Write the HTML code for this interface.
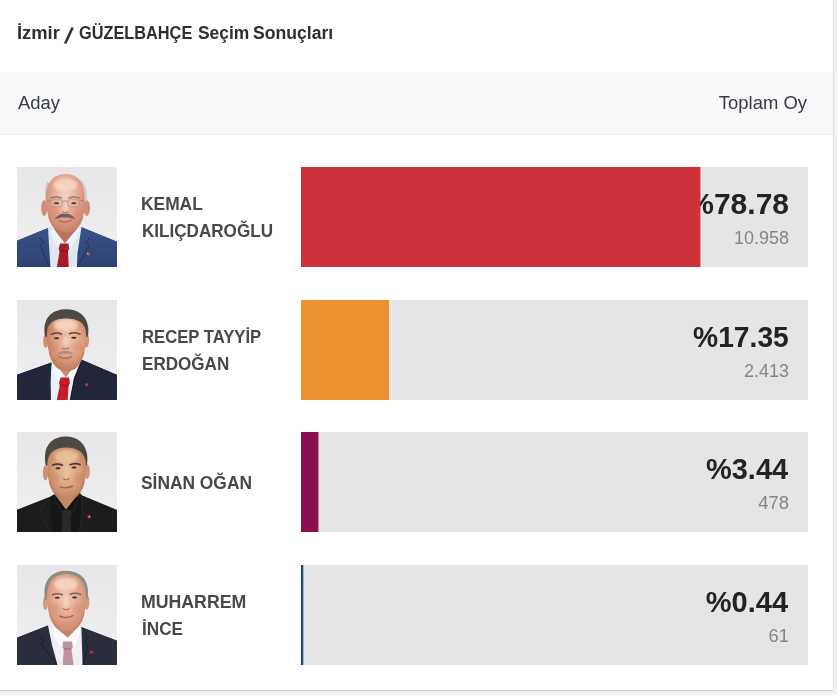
<!DOCTYPE html>
<html lang="tr">
<head>
<meta charset="utf-8">
<title>İzmir / GÜZELBAHÇE Seçim Sonuçları</title>
<style>
html,body{margin:0;padding:0;}
body{width:837px;height:695px;overflow:hidden;background:#f2f1f3;font-family:"Liberation Sans",sans-serif;color:#333;position:relative;}
.card{position:absolute;left:0;top:0;width:833px;height:690px;background:#fff;box-shadow:0 1px 1px rgba(0,0,0,.16), 1px 0 0 #e9e8ea;}
.t{position:absolute;white-space:nowrap;display:inline-block;transform-origin:0 0;line-height:1;}
.r{transform-origin:100% 0;}
.title{font-size:17.5px;font-weight:bold;color:#2e2e33;}
.thead{position:absolute;left:0;top:72px;width:833px;height:62px;background:#f9f8fa;border-bottom:1px solid #f1f0f3;}
.th{font-size:18px;color:#353b44;}
.row{position:absolute;left:0;width:833px;height:100px;}
.photo{position:absolute;left:17px;top:0;width:100px;height:100px;overflow:hidden;background:#e8e8e9;}
.photo svg{display:block;}
.name{font-size:18px;font-weight:bold;color:#47474c;}
.bar{position:absolute;left:301px;top:0;width:507px;height:100px;background:#e5e5e5;overflow:hidden;}
.fill{position:absolute;left:0;top:0;height:100px;z-index:2;}
.pct{font-size:30px;font-weight:bold;color:#232326;z-index:1;}
.cnt{font-size:18px;color:#86868a;z-index:1;}
</style>
</head>
<body>
<div class="card">
<h1 style="margin:0;font-size:inherit;font-weight:inherit"><span class="t title" style="left:16.62px;top:24.60px;transform:scaleX(1.0494);">İzmir</span> <span class="t title" style="left:67.60px;top:25.60px;transform:skewX(-14deg) scale(1.35,1.22);">/</span> <span class="t title" style="left:79.05px;top:24.60px;transform:scaleX(0.9322);">GÜZELBAHÇE</span> <span class="t title" style="left:197.70px;top:24.60px;transform:scaleX(0.9957);">Seçim</span> <span class="t title" style="left:253.28px;top:24.60px;transform:scaleX(1.0061);">Sonuçları</span></h1>
<div class="thead"></div>
<span class="t th" style="left:18.02px;top:94.20px;transform:scaleX(1.0238);">Aday</span> <span class="t th r" style="right:26.42px;top:94.20px;transform:scaleX(1.0249);">Toplam Oy</span>
<div class="row" style="top:167px">
<div class="photo"><svg width="100" height="100" viewBox="0 0 100 100"><defs><filter id="b1" x="-5%" y="-5%" width="110%" height="110%"><feGaussianBlur stdDeviation="0.55"/></filter><filter id="s1" x="-20%" y="-20%" width="140%" height="140%"><feGaussianBlur stdDeviation="1.6"/></filter><linearGradient id="bgg" x1="0" y1="0" x2="0" y2="1"><stop offset="0" stop-color="#e7e7e9"/><stop offset="0.75" stop-color="#eeeeef"/></linearGradient><clipPath id="fc1"><path d="M49,7 C38,7 30,14 29.2,26 C28.8,34 29.5,42 31,48 C32.5,54 35,60 41,63.6 C45,65.6 52,65.6 56,63.8 C62,60.5 65,54 66.5,48 C67.8,42 68,34 67.4,26 C66.5,14 59,7 49,7 Z"/></clipPath><radialGradient id="f1" cx="0.5" cy="0.36" r="0.62"><stop offset="0" stop-color="#f3d3c2"/><stop offset="0.5" stop-color="#e6ab95"/><stop offset="1" stop-color="#cc836c"/></radialGradient>
<linearGradient id="j1" x1="0" y1="0" x2="0" y2="1"><stop offset="0" stop-color="#3a5388"/><stop offset="1" stop-color="#2c4070"/></linearGradient></defs><rect width="100" height="100" fill="url(#bgg)"/>
<g filter="url(#b1)">
<path d="M-2,74.5 L31,61 L47,70 L64,60 L102,75.5 L102,102 L-2,102 Z" fill="url(#j1)"/>
<path d="M31,61 L38.5,58 L60,57.5 L64.5,60 L60.5,86 L59.8,102 L33.5,102 L32.4,84 Z" fill="#dfe6f1"/>
<path d="M38,56 L60,56 L60.5,62 L48,76.5 L37,63 Z" fill="#b9745f"/>
<path d="M37,62 L47.6,76.6 L41,81 L32,64 Z" fill="#edf1f8"/>
<path d="M60.6,61 L47.8,76.6 L54.5,81 L64,62 Z" fill="#edf1f8"/>
<path d="M43,76.6 L51.5,76.6 L52.2,82 L51,84 L51.8,102 L39.6,102 L42.6,84 L41.6,82 Z" fill="#a61f2b"/>
<path d="M42.6,84 L51,84" stroke="#6e1219" stroke-width="0.8" fill="none"/>
<path d="M31,61 L22,71 L27,75 L23,78 L33,102 L-2,102 L-2,74.5 Z" fill="url(#j1)"/>
<path d="M64.2,60 L73,71 L68,75.5 L72,78 L60,102 L102,102 L102,75.5 Z" fill="url(#j1)"/>
<path d="M22,71 L27,75 L23,78 L32.5,100" stroke="#1f3058" stroke-width="0.9" fill="none"/>
<path d="M73,71 L68,75.5 L72,78 L60.6,100" stroke="#1f3058" stroke-width="0.9" fill="none"/>
<ellipse cx="27.2" cy="41" rx="3" ry="8" fill="#d28e78"/>
<ellipse cx="69.8" cy="41" rx="3.2" ry="8" fill="#d28e78"/>
<path d="M30.5,14 C27.5,19 27.6,28 28.6,34 L32,34 L32.5,17 Z" fill="#cfcbca"/>
<path d="M62,11.5 C68.5,15 71,25 70.2,34 L66.5,34 L64,17 Z" fill="#d2cfcf"/>
<path d="M49,7 C38,7 30,14 29.2,26 C28.8,34 29.5,42 31,48 C32.5,54 35,60 41,63.6 C45,65.6 52,65.6 56,63.8 C62,60.5 65,54 66.5,48 C67.8,42 68,34 67.4,26 C66.5,14 59,7 49,7 Z" fill="url(#f1)"/><g clip-path="url(#fc1)"><g filter="url(#s1)"><ellipse cx="48.5" cy="18" rx="12" ry="6.5" fill="#f7d8c4" opacity="0.85"/><ellipse cx="36.0" cy="45" rx="5.5" ry="5" fill="#d8806e" opacity="0.36"/><ellipse cx="61.0" cy="45" rx="5.5" ry="5" fill="#d8806e" opacity="0.36"/><ellipse cx="48.5" cy="40" rx="2.4" ry="5.5" fill="#f7d8c4" opacity="0.7"/></g></g>
<path d="M33.5,31.4 C37,29.6 41,29.8 44.6,31.2" stroke="#8f7a70" stroke-width="1.5" fill="none"/>
<path d="M51.5,31.2 C55,29.6 59.5,29.6 63.2,31.4" stroke="#8f7a70" stroke-width="1.5" fill="none"/>
<path d="M29.5,33.8 L34,34 M45,34.6 C46.5,33.6 49.5,33.6 51,34.6 M62.5,34 L67.5,33.6" stroke="#8d7466" stroke-width="0.6" fill="none"/>
<rect x="33.6" y="32.6" width="11.6" height="7.4" rx="2.6" fill="none" stroke="#a88b7c" stroke-width="0.6"/>
<rect x="51" y="32.6" width="11.6" height="7.4" rx="2.6" fill="none" stroke="#a88b7c" stroke-width="0.6"/>
<ellipse cx="39.6" cy="36.2" rx="2.6" ry="1" fill="#4a3a34"/>
<ellipse cx="56.8" cy="36.2" rx="2.6" ry="1" fill="#4a3a34"/>
<path d="M45.5,44.5 C46.5,46.2 50,46.2 51.2,44.5" stroke="#b87458" stroke-width="1.1" fill="none"/>
<path d="M37.6,52.4 C40,48 45,46.2 48,47 C51,46.2 56,48 58.4,52.4 C54,50.6 51,50.4 48,50.6 C45,50.4 42,50.6 37.6,52.4 Z" fill="#6a6062"/>
<path d="M41.5,53.2 C45,55.6 51,55.6 54.6,53.2" stroke="#b86a62" stroke-width="1.5" fill="none"/>
<path d="M32,50 C34,58 38,62 42,64" stroke="#c07e62" stroke-width="1.6" fill="none" opacity="0.6"/>
<path d="M65.5,50 C63.5,58 60,62 55.5,64" stroke="#c07e62" stroke-width="1.6" fill="none" opacity="0.6"/>
<circle cx="71.5" cy="87.3" r="1.5" fill="#d23b40"/><circle cx="70.8" cy="86.4" r="0.6" fill="#f3e6e6"/>
</g></svg></div>
<span class="t name" style="left:141.43px;top:28.00px;transform:scaleX(0.9656);">KEMAL</span> <span class="t name" style="left:141.55px;top:55.00px;transform:scaleX(0.9491);">KILIÇDAROĞLU</span>
<div class="bar"><div class="fill" style="width:400px;background:linear-gradient(to right,#cd313a 0,#cd313a 399px,#cd313a6d 399px)"></div><span class="t r pct" style="right:19.00px;top:21.90px;transform:scaleX(1.0000);">%78.78</span> <span class="t r cnt" style="right:18.94px;top:62.20px;transform:scaleX(0.9996);">10.958</span></div>
</div>
<div class="row" style="top:300px">
<div class="photo"><svg width="100" height="100" viewBox="0 0 100 100"><defs><filter id="b2" x="-5%" y="-5%" width="110%" height="110%"><feGaussianBlur stdDeviation="0.55"/></filter><filter id="s2" x="-20%" y="-20%" width="140%" height="140%"><feGaussianBlur stdDeviation="1.6"/></filter><clipPath id="fc2"><path d="M49,18.4 C39,18.4 31.5,21.5 30.2,30 C29.4,37 29.8,44 31.6,50.6 C33.4,58 36.4,65 42,69 C46,71.4 53,71.4 57.2,69.2 C63,65 66,58 67.6,50.6 C69.2,44 69.6,37 68.6,30 C67,21.5 59,18.4 49,18.4 Z"/></clipPath><radialGradient id="f2" cx="0.56" cy="0.40" r="0.66"><stop offset="0" stop-color="#efc3a6"/><stop offset="0.5" stop-color="#dfa284"/><stop offset="1" stop-color="#bd7350"/></radialGradient>
<linearGradient id="g2" x1="0" y1="0" x2="0" y2="1"><stop offset="0" stop-color="#dfdee3"/><stop offset="1" stop-color="#ecebee"/></linearGradient></defs><rect width="100" height="100" fill="url(#bgg)"/>
<g filter="url(#b2)">
<path d="M-2,75.5 L34.5,62.6 L48,72 L64.7,59.7 L102,75.8 L102,102 L-2,102 Z" fill="#20263a"/>
<path d="M34.5,62 L40,58 L60,57 L64.7,59.7 L58,80 L54.4,102 L33.8,102 L33.4,82 Z" fill="#e6f0f7"/>
<path d="M39,57 L61,56 L61,62 L49,77.5 L38.5,64 Z" fill="#c98c6c"/>
<path d="M38,63 L48.5,77.6 L41.5,83 L34,66 Z" fill="#f3f8fb"/>
<path d="M61.2,61 L48.8,77.6 L55,82 L64,62 Z" fill="#f3f8fb"/>
<path d="M43.4,77.6 L52,77.6 L53,83 L51.6,85.4 L50.6,102 L39.4,102 L42.8,85.4 L42,83 Z" fill="#c51f29"/>
<path d="M42.8,85.4 L51.6,85.4" stroke="#8a1219" stroke-width="0.8" fill="none"/>
<path d="M34.5,62.4 L33.4,82 L33.8,102 L-2,102 L-2,75.5 Z" fill="#20263a"/>
<path d="M64.7,59.7 L57.2,78 L52.8,102 L102,102 L102,75.8 Z" fill="#20263a"/>
<path d="M64.5,61 L57.5,78 L53.1,101" stroke="#10131f" stroke-width="0.9" fill="none"/>
<ellipse cx="28.6" cy="41" rx="2.4" ry="7" fill="#cf9172"/>
<ellipse cx="69.4" cy="40" rx="2.6" ry="7.5" fill="#cf9172"/>
<path d="M49,9.2 C36,9 28,17 27.4,28 C27.2,32 27.6,35 28.4,37 L31.4,36 C31,30 32,25 36,22 C42,19.4 56,19 62,21.6 C66.5,24.4 67.4,30 67.2,36 L70.6,37 C71.6,33 71.6,29 71,26 C69,15 61,9.2 49,9.2 Z" fill="#4d4a47"/>
<path d="M49,18.4 C39,18.4 31.5,21.5 30.2,30 C29.4,37 29.8,44 31.6,50.6 C33.4,58 36.4,65 42,69 C46,71.4 53,71.4 57.2,69.2 C63,65 66,58 67.6,50.6 C69.2,44 69.6,37 68.6,30 C67,21.5 59,18.4 49,18.4 Z" fill="url(#f2)"/><g clip-path="url(#fc2)"><g filter="url(#s2)"><ellipse cx="48.5" cy="25" rx="12" ry="6.5" fill="#f7d8c4" opacity="0.85"/><ellipse cx="36.0" cy="47" rx="5.5" ry="5" fill="#d8806e" opacity="0.36"/><ellipse cx="61.0" cy="47" rx="5.5" ry="5" fill="#d8806e" opacity="0.36"/><ellipse cx="48.5" cy="42" rx="2.4" ry="5.5" fill="#f7d8c4" opacity="0.7"/></g></g>
<path d="M33.6,34.6 C37,32.6 41.4,32.6 45,34.2" stroke="#5b4a42" stroke-width="1.6" fill="none"/>
<path d="M52,34 C55.6,32.4 60,32.4 63.6,34.4" stroke="#5b4a42" stroke-width="1.6" fill="none"/>
<ellipse cx="39.6" cy="38.2" rx="2.6" ry="1.05" fill="#3d2f2a"/>
<ellipse cx="56.8" cy="37.8" rx="2.6" ry="1.05" fill="#3d2f2a"/>
<path d="M45.2,47.6 C46.4,49.4 50.4,49.4 51.6,47.6" stroke="#b57256" stroke-width="1.1" fill="none"/>
<path d="M39.6,55.2 C42,51.6 46,50.6 48.4,51.2 C51,50.6 55,51.6 57,55 C54,53.6 51,53.4 48.4,53.6 C45.6,53.4 43,53.8 39.6,55.2 Z" fill="#a48f86"/>
<path d="M42,56.6 C45.4,58.8 51.4,58.8 55,56.4" stroke="#b9675e" stroke-width="1.5" fill="none"/>
<path d="M32.4,52 C34.4,61 38.4,66.4 42.6,69.2" stroke="#b87658" stroke-width="1.6" fill="none" opacity="0.6"/>
<path d="M66.8,52 C64.8,61 61,66.4 56.6,69.2" stroke="#b87658" stroke-width="1.6" fill="none" opacity="0.6"/>
<circle cx="69.5" cy="84.5" r="1.5" fill="#d0323a"/>
</g></svg></div>
<span class="t name" style="left:141.75px;top:28.00px;transform:scaleX(0.9264);">RECEP TAYYİP</span> <span class="t name" style="left:141.56px;top:55.00px;transform:scaleX(0.9485);">ERDOĞAN</span>
<div class="bar"><div class="fill" style="width:88px;background:linear-gradient(to right,#ec912f 0,#ec912f 87px,#ec912ff7 87px)"></div><span class="t r pct" style="right:19.12px;top:21.90px;transform:scaleX(0.9400);">%17.35</span> <span class="t r cnt" style="right:18.71px;top:62.20px;transform:scaleX(0.9988);">2.413</span></div>
</div>
<div class="row" style="top:432px">
<div class="photo"><svg width="100" height="100" viewBox="0 0 100 100"><defs><filter id="b3" x="-5%" y="-5%" width="110%" height="110%"><feGaussianBlur stdDeviation="0.55"/></filter><filter id="s3" x="-20%" y="-20%" width="140%" height="140%"><feGaussianBlur stdDeviation="1.6"/></filter><clipPath id="fc3"><path d="M49,15.4 C39,15.4 31.8,19.4 30.6,29 C29.8,36 30.2,43 32,49.6 C33.8,56 37,62.6 42.6,66 C46.6,68.4 53,68.4 57,66.2 C62.6,62.8 66,56 67.6,49.6 C69.2,43 69.6,36 68.6,29 C67,19.4 59,15.4 49,15.4 Z"/></clipPath><radialGradient id="f3" cx="0.5" cy="0.45" r="0.62"><stop offset="0" stop-color="#ecc29e"/><stop offset="0.5" stop-color="#d9a27b"/><stop offset="1" stop-color="#b57a54"/></radialGradient></defs><rect width="100" height="100" fill="url(#bgg)"/>
<g filter="url(#b3)">
<path d="M-2,78.6 L33,64.7 L48,72 L64.7,63.3 L102,78.8 L102,102 L-2,102 Z" fill="#1a1a1c"/>
<path d="M38.5,58 L62,57 L62.4,66 L49,78 L37.6,67 Z" fill="#c08a68"/>
<path d="M33,64.7 L37.6,62 L49,77.6 L62.6,60.6 L64.7,63.3 L62,102 L36,102 Z" fill="#161518"/>
<path d="M45.6,78 L54,78 L54.6,84 L53.4,86 L54,102 L44.4,102 L45.8,86 L44.8,84 Z" fill="#2a2c2e"/>
<path d="M37,66 L45,80 M62.6,64 L56.6,80" stroke="#2b2b2e" stroke-width="0.8" fill="none"/>
<path d="M33,65 L23,78 L34,102 M64.7,63.6 L66,80 L62,102" stroke="#2c2c30" stroke-width="0.8" fill="none"/>
<ellipse cx="28.4" cy="41" rx="2.6" ry="7.4" fill="#cc9474"/>
<ellipse cx="70.2" cy="39.6" rx="2.6" ry="7.4" fill="#cc9474"/>
<path d="M49,4.4 C36,4.4 28.4,12 28,24 C27.8,28 28.2,31.6 29,34 L31.8,33 C31.6,27 32.6,22 36.6,19.4 C43,16.6 56,16.6 62.4,19 C66.4,22 67.2,27 67.2,33 L69.8,33.6 C70.6,30 70.6,26 70,22 C68,10.6 60,4.4 49,4.4 Z" fill="#4b4843"/>
<path d="M49,15.4 C39,15.4 31.8,19.4 30.6,29 C29.8,36 30.2,43 32,49.6 C33.8,56 37,62.6 42.6,66 C46.6,68.4 53,68.4 57,66.2 C62.6,62.8 66,56 67.6,49.6 C69.2,43 69.6,36 68.6,29 C67,19.4 59,15.4 49,15.4 Z" fill="url(#f3)"/><g clip-path="url(#fc3)"><g filter="url(#s3)"><ellipse cx="49.5" cy="24" rx="12" ry="6.5" fill="#f0caa6" opacity="0.7"/><ellipse cx="37.0" cy="46" rx="5.5" ry="5" fill="#c98060" opacity="0.36"/><ellipse cx="62.0" cy="46" rx="5.5" ry="5" fill="#c98060" opacity="0.36"/><ellipse cx="49.5" cy="41" rx="2.4" ry="5.5" fill="#efc8a4" opacity="0.6"/></g></g>
<path d="M35,33.4 C38.6,31.6 42.6,31.8 46,33.4" stroke="#4a3b34" stroke-width="1.7" fill="none"/>
<path d="M52.6,33 C56,31.2 60,31.2 63.6,32.8" stroke="#4a3b34" stroke-width="1.7" fill="none"/>
<ellipse cx="41" cy="36.2" rx="2.6" ry="1" fill="#382c28"/>
<ellipse cx="57" cy="35.6" rx="2.6" ry="1" fill="#382c28"/>
<path d="M46,46.4 C47.2,48.2 51.2,48.2 52.4,46.4" stroke="#b07052" stroke-width="1.1" fill="none"/>
<path d="M42.4,54.6 C46,56.2 52,56 56,54" stroke="#a8605a" stroke-width="1.5" fill="none"/>
<path d="M32.6,50 C34.6,58 38.4,63.4 43,66" stroke="#b07454" stroke-width="1.8" fill="none" opacity="0.6"/>
<path d="M67,50 C65,58 61.4,63.4 56.8,66" stroke="#b07454" stroke-width="1.8" fill="none" opacity="0.6"/>
<circle cx="72" cy="84.5" r="1.5" fill="#c8423c"/><circle cx="72.6" cy="85" r="0.6" fill="#efe3e0"/>
</g></svg></div>
<span class="t name" style="left:141.47px;top:41.70px;transform:scaleX(0.9649);">SİNAN OĞAN</span>
<div class="bar"><div class="fill" style="width:18px;background:linear-gradient(to right,#8b0f4f 0,#8b0f4f 17px,#8b0f4f70 17px)"></div><span class="t r pct" style="right:19.58px;top:21.90px;transform:scaleX(0.9646);">%3.44</span> <span class="t r cnt" style="right:18.60px;top:62.20px;transform:scaleX(1.0268);">478</span></div>
</div>
<div class="row" style="top:565px">
<div class="photo"><svg width="100" height="100" viewBox="0 0 100 100"><defs><filter id="b4" x="-5%" y="-5%" width="110%" height="110%"><feGaussianBlur stdDeviation="0.55"/></filter><filter id="s4" x="-20%" y="-20%" width="140%" height="140%"><feGaussianBlur stdDeviation="1.6"/></filter><clipPath id="fc4"><path d="M49,9 C40,9 32.4,13.6 30.6,25 C29.6,33 30,41 31.8,47.6 C33.8,55.5 36.4,62 42,64.6 C46.4,66.8 53,66.8 57.4,64.8 C63,62 65.8,55.5 67.6,47.6 C69.2,41 69.6,33 68.4,25 C66.6,13.6 58,9 49,9 Z"/></clipPath><radialGradient id="f4" cx="0.48" cy="0.4" r="0.64"><stop offset="0" stop-color="#f2cbb2"/><stop offset="0.5" stop-color="#e4aa8f"/><stop offset="1" stop-color="#c9866b"/></radialGradient></defs><rect width="100" height="100" fill="url(#bgg)"/>
<g filter="url(#b4)">
<path d="M-2,73.6 L31,60.4 L48,72 L64,62 L102,76.6 L102,102 L-2,102 Z" fill="#2b2f3d"/>
<path d="M31,60.4 L39,57 L61,56.4 L64.4,62 L65,82 L65.6,102 L41,102 L35,80 Z" fill="#f0f0f4"/>
<path d="M38.6,55 L61,54.6 L61.6,62 L51,73 L38.4,63 Z" fill="#c4846a"/>
<path d="M38,62 L50.8,73 L50.8,76.8 L44,82 L33,64.4 Z" fill="#fbfbfd"/>
<path d="M61.8,61 L50.8,73 L50.8,76.8 L58,81 L64.4,63 Z" fill="#fbfbfd"/>
<path d="M46.2,76.6 L55,76.6 L55.8,82 L54.4,84 L57,102 L45.6,102 L46.8,84 L45.4,82 Z" fill="#c092a2"/>
<path d="M46.8,84 L54.4,84" stroke="#8c5a68" stroke-width="0.8" fill="none"/>
<path d="M31,60.4 L22,72 L27.6,75.6 L24,78.6 L41,102 L-2,102 L-2,73.6 Z" fill="#2b2f3d"/>
<path d="M64.2,62 L72,73 L67.4,77 L71,80 L65.6,102 L102,102 L102,76.6 Z" fill="#2b2f3d"/>
<path d="M22,72 L27.6,75.6 L24,78.6 L40.6,101" stroke="#191c27" stroke-width="0.9" fill="none"/>
<path d="M72,73 L67.4,77 L71,80 L65.8,101" stroke="#191c27" stroke-width="0.9" fill="none"/>
<ellipse cx="28.4" cy="38" rx="2.4" ry="7" fill="#d59878"/>
<ellipse cx="69.8" cy="37" rx="2.6" ry="7.4" fill="#d59878"/>
<path d="M49,5.8 C37,5.6 28.6,13 27.6,24 C27.2,28 27.4,32 28.2,35 L31,34 C30.6,28 31.6,20 35.6,15 C41,10 57,10 62.4,14.4 C66.6,19 67.6,27 67.4,33.6 L70.2,34.4 C71.2,31 71.2,26 70.6,22 C68.6,11.6 60.4,5.8 49,5.8 Z" fill="#8f8c87"/>
<path d="M49,9 C40,9 32.4,13.6 30.6,25 C29.6,33 30,41 31.8,47.6 C33.8,55.5 36.4,62 42,64.6 C46.4,66.8 53,66.8 57.4,64.8 C63,62 65.8,55.5 67.6,47.6 C69.2,41 69.6,33 68.4,25 C66.6,13.6 58,9 49,9 Z" fill="url(#f4)"/><g clip-path="url(#fc4)"><g filter="url(#s4)"><ellipse cx="49" cy="19" rx="12" ry="6.5" fill="#f7d8c4" opacity="0.85"/><ellipse cx="36.5" cy="43" rx="5.5" ry="5" fill="#d8806e" opacity="0.36"/><ellipse cx="61.5" cy="43" rx="5.5" ry="5" fill="#d8806e" opacity="0.36"/><ellipse cx="49" cy="38" rx="2.4" ry="5.5" fill="#f7d8c4" opacity="0.7"/></g></g>
<path d="M35,30 C38.6,28.2 42.6,28.4 46,30" stroke="#7a655a" stroke-width="1.5" fill="none"/>
<path d="M52.6,29.6 C56,28 60.4,28 64,29.6" stroke="#7a655a" stroke-width="1.5" fill="none"/>
<ellipse cx="40.3" cy="32.8" rx="2.6" ry="1" fill="#43342e"/>
<ellipse cx="57.6" cy="32.4" rx="2.6" ry="1" fill="#43342e"/>
<path d="M46,43.4 C47.2,45.2 51.2,45.2 52.4,43.4" stroke="#b87458" stroke-width="1.1" fill="none"/>
<path d="M42.4,51 C46,53.2 52.6,53 56.6,50.4" stroke="#b3625c" stroke-width="1.6" fill="none"/>
<path d="M32.4,48 C34.4,56 38.4,61.4 43,64" stroke="#bd7c60" stroke-width="1.6" fill="none" opacity="0.55"/>
<path d="M67,48 C65,56 61.4,61.4 56.8,64" stroke="#bd7c60" stroke-width="1.6" fill="none" opacity="0.55"/>
<path d="M73.2,85.4 L76.8,86.4 L76,88.8 L72.6,88 Z" fill="#d3202f"/>
</g></svg></div>
<span class="t name" style="left:141.27px;top:28.00px;transform:scaleX(0.9838);">MUHARREM</span> <span class="t name" style="left:141.52px;top:55.00px;transform:scaleX(0.9542);">İNCE</span>
<div class="bar"><div class="fill" style="width:3px;background:linear-gradient(to right,#174a78 0,#174a78 2px,#174a784c 2px)"></div><span class="t r pct" style="right:19.48px;top:21.90px;transform:scaleX(0.9669);">%0.44</span> <span class="t r cnt" style="right:19.19px;top:62.20px;transform:scaleX(1.0194);">61</span></div>
</div>
</div>
</body>
</html>
